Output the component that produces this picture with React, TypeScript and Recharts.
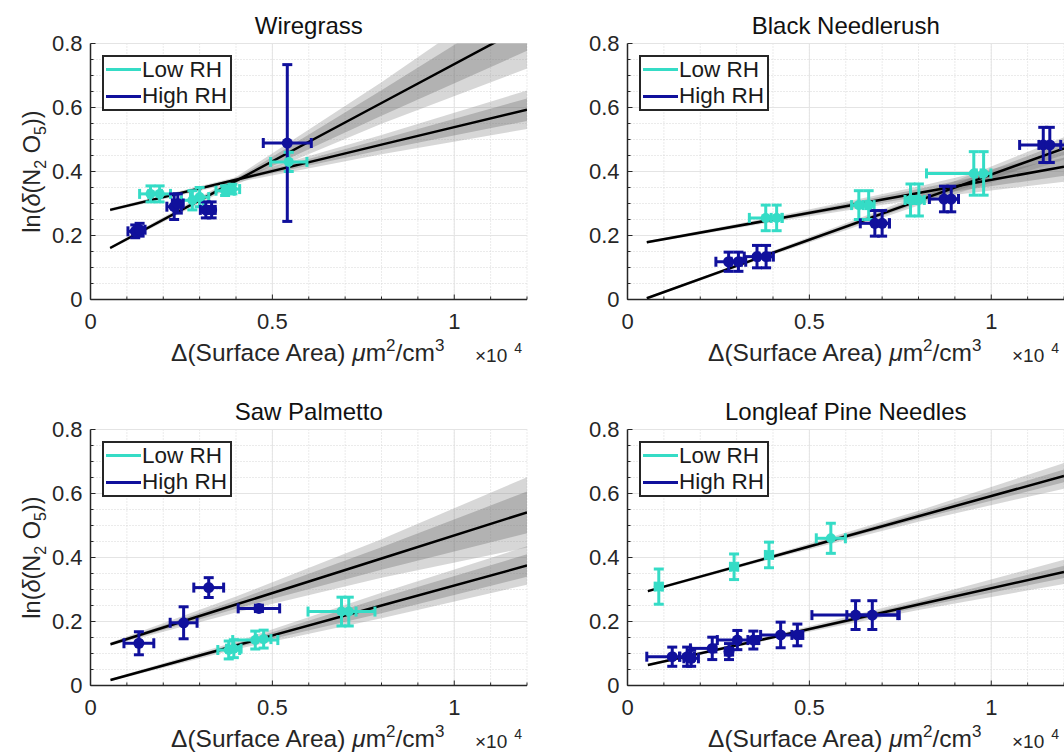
import React from "react";
import {
  ComposedChart, XAxis, YAxis, CartesianGrid, Area, Line, Scatter, ErrorBar,
} from "recharts";

// ── style ───────────────────────────────────────────────
const FONT = '"Liberation Sans", Arial, Helvetica, sans-serif';
const INK = "#262626";
const LOW = "#35dcc6";
const HIGH = "#10109c";

// ── axes ────────────────────────────────────────────────
const xTicks = [0, 0.1, 0.2, 0.3, 0.4, 0.5, 0.6, 0.7, 0.8, 0.9, 1, 1.1, 1.2];
const xMajor = [0, 0.5, 1];
const yTicks = [0, 0.05, 0.1, 0.15, 0.2, 0.25, 0.3, 0.35, 0.4, 0.45, 0.5, 0.55, 0.6, 0.65, 0.7, 0.75, 0.8];
const yMajor = [0, 0.2, 0.4, 0.6, 0.8];

// ── Wiregrass ───────────────────────────────────────────
const wiregrassLow = [
  { x: 0.165, y: 0.33, ex: 0.03, ey: 0.025 },
  { x: 0.19, y: 0.33, ex: 0.03, ey: 0.025 },
  { x: 0.28, y: 0.31, ex: 0.03, ey: 0.03 },
  { x: 0.3, y: 0.32, ex: 0.025, ey: 0.03 },
  { x: 0.37, y: 0.34, ex: 0.025, ey: 0.015 },
  { x: 0.39, y: 0.345, ex: 0.02, ey: 0.015 },
  { x: 0.545, y: 0.43, ex: 0.05, ey: 0.03 },
];
const wiregrassHigh = [
  { x: 0.123, y: 0.213, ex: 0.02, ey: 0.02 },
  { x: 0.135, y: 0.218, ex: 0.015, ey: 0.02 },
  { x: 0.23, y: 0.29, ex: 0.02, ey: 0.04 },
  { x: 0.24, y: 0.3, ex: 0.015, ey: 0.03 },
  { x: 0.317, y: 0.28, ex: 0.015, ey: 0.025 },
  { x: 0.333, y: 0.28, ex: 0.01, ey: 0.025 },
  { x: 0.541, y: 0.489, ex: 0.066, ey: 0.245 },
];
const wiregrassLowFit = [
  { x: 0.054, y: 0.28, outer: [0.275, 0.285], inner: [0.277, 0.283] },
  { x: 0.4, y: 0.374, outer: [0.366, 0.382], inner: [0.37, 0.378] },
  { x: 0.8, y: 0.484, outer: [0.454, 0.514], inner: [0.467, 0.501] },
  { x: 1.2, y: 0.593, outer: [0.533, 0.653], inner: [0.558, 0.628] },
];
const wiregrassHighFit = [
  { x: 0.054, y: 0.161, outer: [0.156, 0.166], inner: [0.158, 0.164] },
  { x: 0.4, y: 0.371, outer: [0.359, 0.383], inner: [0.365, 0.377] },
  { x: 0.8, y: 0.614, outer: [0.549, 0.679], inner: [0.574, 0.654] },
  { x: 1.2, y: 0.857, outer: [0.722, 0.992], inner: [0.777, 0.937] },
];

// ── Black Needlerush ────────────────────────────────────
const needleLow = [
  { x: 0.38, y: 0.255, ex: 0.045, ey: 0.04 },
  { x: 0.41, y: 0.255, ex: 0.015, ey: 0.04 },
  { x: 0.636, y: 0.295, ex: 0.02, ey: 0.045 },
  { x: 0.663, y: 0.295, ex: 0.015, ey: 0.045 },
  { x: 0.778, y: 0.311, ex: 0.015, ey: 0.05 },
  { x: 0.801, y: 0.311, ex: 0.015, ey: 0.05 },
  { x: 0.952, y: 0.394, ex: [0.13, 0.02], ey: 0.068 },
  { x: 0.979, y: 0.394, ex: 0.02, ey: 0.068 },
];
const needleHigh = [
  { x: 0.278, y: 0.118, ex: 0.035, ey: 0.03 },
  { x: 0.305, y: 0.118, ex: 0.02, ey: 0.03 },
  { x: 0.356, y: 0.134, ex: 0.035, ey: 0.035 },
  { x: 0.381, y: 0.134, ex: 0.02, ey: 0.035 },
  { x: 0.68, y: 0.238, ex: 0.04, ey: 0.04 },
  { x: 0.7, y: 0.238, ex: 0.02, ey: 0.04 },
  { x: 0.87, y: 0.314, ex: 0.04, ey: 0.04 },
  { x: 0.89, y: 0.314, ex: 0.02, ey: 0.04 },
  { x: 1.143, y: 0.483, ex: 0.065, ey: 0.055 },
  { x: 1.161, y: 0.483, ex: 0.03, ey: 0.055 },
];
const needleLowFit = [
  { x: 0.053, y: 0.179, outer: [0.175, 0.183], inner: [0.177, 0.181] },
  { x: 0.4, y: 0.25, outer: [0.242, 0.258], inner: [0.246, 0.254] },
  { x: 0.8, y: 0.333, outer: [0.313, 0.353], inner: [0.321, 0.345] },
  { x: 1.2, y: 0.415, outer: [0.368, 0.462], inner: [0.387, 0.443] },
];
const needleHighFit = [
  { x: 0.053, y: 0.004, outer: [0, 0.008], inner: [0.002, 0.006] },
  { x: 0.4, y: 0.146, outer: [0.14, 0.152], inner: [0.143, 0.149] },
  { x: 0.8, y: 0.309, outer: [0.294, 0.324], inner: [0.301, 0.317] },
  { x: 1.2, y: 0.472, outer: [0.437, 0.507], inner: [0.452, 0.492] },
];

// ── Saw Palmetto ────────────────────────────────────────
const palmLow = [
  { x: 0.38, y: 0.111, ex: 0.03, ey: 0.028 },
  { x: 0.394, y: 0.115, ex: 0.02, ey: 0.028 },
  { x: 0.453, y: 0.142, ex: 0.062, ey: 0.028 },
  { x: 0.476, y: 0.145, ex: 0.02, ey: 0.028 },
  { x: 0.69, y: 0.231, ex: 0.092, ey: 0.045 },
  { x: 0.71, y: 0.231, ex: 0.02, ey: 0.045 },
];
const palmHigh = [
  { x: 0.133, y: 0.132, ex: 0.041, ey: 0.036 },
  { x: 0.256, y: 0.196, ex: 0.037, ey: 0.05 },
  { x: 0.325, y: 0.306, ex: 0.041, ey: 0.031 },
  { x: 0.463, y: 0.241, ex: 0.057, ey: 0.01 },
];
const palmLowFit = [
  { x: 0.055, y: 0.017, outer: [0.013, 0.021], inner: [0.015, 0.019] },
  { x: 0.4, y: 0.125, outer: [0.113, 0.137], inner: [0.119, 0.131] },
  { x: 0.8, y: 0.25, outer: [0.21, 0.29], inner: [0.226, 0.274] },
  { x: 1.2, y: 0.375, outer: [0.315, 0.435], inner: [0.34, 0.41] },
];
const palmHighFit = [
  { x: 0.055, y: 0.129, outer: [0.124, 0.134], inner: [0.126, 0.132] },
  { x: 0.4, y: 0.253, outer: [0.228, 0.278], inner: [0.24, 0.266] },
  { x: 0.8, y: 0.397, outer: [0.337, 0.457], inner: [0.362, 0.432] },
  { x: 1.2, y: 0.541, outer: [0.431, 0.651], inner: [0.476, 0.606] },
];

// ── Longleaf Pine Needles ───────────────────────────────
const pineLow = [
  { x: 0.086, y: 0.309, ex: 0.01, ey: 0.055 },
  { x: 0.293, y: 0.371, ex: 0.01, ey: 0.04 },
  { x: 0.389, y: 0.408, ex: 0.01, ey: 0.04 },
  { x: 0.559, y: 0.46, ex: 0.04, ey: 0.047 },
];
const pineHigh = [
  { x: 0.123, y: 0.09, ex: [0.07, 0.02], ey: 0.03 },
  { x: 0.164, y: 0.09, ex: 0.02, ey: 0.03 },
  { x: 0.175, y: 0.085, ex: 0.02, ey: 0.025 },
  { x: 0.233, y: 0.116, ex: [0.06, 0.01], ey: 0.035 },
  { x: 0.279, y: 0.106, ex: 0.01, ey: 0.025 },
  { x: 0.302, y: 0.142, ex: 0.055, ey: 0.03 },
  { x: 0.346, y: 0.142, ex: 0.015, ey: 0.028 },
  { x: 0.421, y: 0.158, ex: 0.055, ey: 0.04 },
  { x: 0.467, y: 0.158, ex: 0.015, ey: 0.034 },
  { x: 0.627, y: 0.22, ex: 0.12, ey: 0.045 },
  { x: 0.673, y: 0.22, ex: 0.07, ey: 0.045 },
];
const pineLowFit = [
  { x: 0.056, y: 0.295, outer: [0.291, 0.299], inner: [0.293, 0.297] },
  { x: 0.4, y: 0.403, outer: [0.397, 0.409], inner: [0.4, 0.406] },
  { x: 0.8, y: 0.529, outer: [0.512, 0.546], inner: [0.52, 0.538] },
  { x: 1.2, y: 0.655, outer: [0.615, 0.695], inner: [0.635, 0.675] },
];
const pineHighFit = [
  { x: 0.056, y: 0.064, outer: [0.06, 0.068], inner: [0.062, 0.066] },
  { x: 0.4, y: 0.151, outer: [0.145, 0.157], inner: [0.148, 0.154] },
  { x: 0.8, y: 0.253, outer: [0.236, 0.27], inner: [0.244, 0.262] },
  { x: 1.2, y: 0.355, outer: [0.317, 0.393], inner: [0.336, 0.374] },
];

const legendItems = [
  { label: "Low RH", color: LOW },
  { label: "High RH", color: HIGH },
];

// plot box inside each 540x380 chart
const PLOT = { left: 90.5, top: 43.5, width: 436.5, height: 256 };

// ── ticks (MATLAB style, pointing inward) ───────────────
const BottomTick = ({ x, y, payload }: any) => {
  const major = xMajor.includes(payload.value);
  return (
    <g>
      <line x1={x} x2={x} y1={y} y2={y - (major ? 5 : 3)} stroke={INK} />
      {major && (
        <text x={x} y={y + 29.5} textAnchor="middle" fontFamily={FONT} fontSize={22} fill={INK}>
          {String(payload.value)}
        </text>
      )}
    </g>
  );
};
const TopTick = ({ x, y, payload }: any) => {
  const major = xMajor.includes(payload.value);
  return <line x1={x} x2={x} y1={y} y2={y + (major ? 5 : 3)} stroke={INK} />;
};
const LeftTick = ({ x, y, payload }: any) => {
  const major = yMajor.includes(payload.value);
  return (
    <g>
      <line x1={x} x2={x + (major ? 5 : 3)} y1={y} y2={y} stroke={INK} />
      {major && (
        <text x={x - 8} y={y} dy="0.36em" textAnchor="end" fontFamily={FONT} fontSize={22} fill={INK}>
          {String(payload.value)}
        </text>
      )}
    </g>
  );
};
const RightTick = ({ x, y, payload }: any) => {
  const major = yMajor.includes(payload.value);
  return <line x1={x} x2={x - (major ? 5 : 3)} y1={y} y2={y} stroke={INK} />;
};

// ── labels: x label, exponent and panel title ───────────
const XTitle = (props: any) => {
  const vb = props.viewBox ?? { x: PLOT.left, y: PLOT.top + PLOT.height, width: PLOT.width };
  const base = vb.y + 61.5;
  const cx = vb.x + vb.width / 2;
  return (
    <g>
      <text x={cx} y={vb.y - PLOT.height - 9.5} textAnchor="middle" fontFamily={FONT} fontSize={24} fill="#111">
        {props.title}
      </text>
      <text x={cx - 1} y={base} textAnchor="middle" fontFamily={FONT} fontSize={24.5} fill={INK}>
        {"Δ(Surface Area) "}<tspan fontStyle="italic">μ</tspan>m<tspan dy={-10} fontSize={17}>2</tspan><tspan dy={10}>/cm</tspan><tspan dy={-10} fontSize={17}>3</tspan>
      </text>
      <text x={vb.x + vb.width - 52} y={base + 0.5} fontFamily={FONT} fontSize={19} fill={INK}>
        ×10<tspan dx={7} dy={-8.5} fontSize={14}>4</tspan>
      </text>
    </g>
  );
};
const YTitle = () => {
  const x = 40;
  const y = PLOT.top + PLOT.height / 2;
  return (
    <text x={x} y={y} transform={`rotate(-90 ${x} ${y})`} textAnchor="middle" fontFamily={FONT} fontSize={23.5} fill={INK}>
      ln(<tspan fontStyle="italic">δ</tspan>(N<tspan dy={6} fontSize={16}>2</tspan><tspan dy={-6}>{" O"}</tspan><tspan dy={6} fontSize={16}>5</tspan><tspan dy={-6}>))</tspan>
    </text>
  );
};

const LegendBox = ({ left, top }: { left: number; top: number }) => (
  <div style={{
    position: "absolute", left, top, width: 130, height: 56, boxSizing: "border-box",
    border: "2px solid #262626", background: "#fff", fontFamily: FONT, fontSize: 22.5, color: "#1a1a1a",
  }}>
    {legendItems.map((it, i) => (
      <div key={it.label} style={{ position: "absolute", left: 0, top: i * 26.5, width: "100%", height: 26.5 }}>
        <span style={{ position: "absolute", left: 2.5, top: 11.5, width: 35, height: 3, background: it.color }} />
        <span style={{ position: "absolute", left: 38.5, top: 0, lineHeight: "26.5px", whiteSpace: "nowrap" }}>{it.label}</span>
      </div>
    ))}
  </div>
);

const bandOuter = { fill: "#8c8c8c", fillOpacity: 0.35 };
const bandInner = { fill: "#6e6e6e", fillOpacity: 0.35 };

function Panel({ title, low, high, lowFit, highFit, yLabel }: any) {
  const axisLine = { stroke: INK, strokeWidth: 1.5 };
  return (
    <ComposedChart width={540} height={380} margin={{ top: 43.5, right: 13, bottom: 10.5, left: 0 }}>
      <CartesianGrid verticalValues={xTicks} horizontalValues={yTicks} stroke="#d6d6d6" strokeDasharray="1 2" />
      <CartesianGrid verticalValues={xMajor} horizontalValues={yMajor} stroke="#e4e4e4" />
      <XAxis type="number" dataKey="x" domain={[0, 1.2]} ticks={xTicks} interval={0} allowDataOverflow
        height={70} tickSize={0} tickMargin={0} tickLine={false} axisLine={axisLine}
        tick={<BottomTick />} label={<XTitle title={title} />} />
      <XAxis xAxisId="top" orientation="top" type="number" dataKey="x" domain={[0, 1.2]} ticks={xTicks} interval={0}
        allowDataOverflow height={0} tickSize={0} tickMargin={0} tickLine={false} axisLine={axisLine}
        tick={<TopTick />} />
      <YAxis type="number" domain={[0, 0.8]} ticks={yTicks} interval={0} allowDataOverflow
        width={90.5} tickSize={0} tickMargin={0} tickLine={false} axisLine={axisLine}
        tick={<LeftTick />} label={yLabel ? <YTitle /> : undefined} />
      <YAxis yAxisId="right" orientation="right" type="number" domain={[0, 0.8]} ticks={yTicks} interval={0}
        allowDataOverflow width={0} tickSize={0} tickMargin={0} tickLine={false} axisLine={axisLine}
        tick={<RightTick />} />

      <Area data={lowFit} dataKey="outer" type="linear" stroke="none" {...bandOuter} isAnimationActive={false} />
      <Area data={highFit} dataKey="outer" type="linear" stroke="none" {...bandOuter} isAnimationActive={false} />
      <Area data={lowFit} dataKey="inner" type="linear" stroke="none" {...bandInner} isAnimationActive={false} />
      <Area data={highFit} dataKey="inner" type="linear" stroke="none" {...bandInner} isAnimationActive={false} />
      <Line data={lowFit} dataKey="y" type="linear" stroke="#000" strokeWidth={2.5} dot={false} isAnimationActive={false} />
      <Line data={highFit} dataKey="y" type="linear" stroke="#000" strokeWidth={2.5} dot={false} isAnimationActive={false} />

      <Scatter data={low} dataKey="y" isAnimationActive={false}
        shape={(p: any) => <circle cx={p.cx} cy={p.cy} r={5} fill={LOW} />}>
        <ErrorBar dataKey="ey" direction="y" width={5} stroke={LOW} strokeWidth={3} />
        <ErrorBar dataKey="ex" direction="x" width={5} stroke={LOW} strokeWidth={3} />
      </Scatter>
      <Scatter data={high} dataKey="y" isAnimationActive={false}
        shape={(p: any) => <circle cx={p.cx} cy={p.cy} r={5.5} fill={HIGH} />}>
        <ErrorBar dataKey="ey" direction="y" width={5} stroke={HIGH} strokeWidth={3} />
        <ErrorBar dataKey="ex" direction="x" width={5} stroke={HIGH} strokeWidth={3} />
      </Scatter>
    </ComposedChart>
  );
}

const panels = [
  { title: "Wiregrass", low: wiregrassLow, high: wiregrassHigh, lowFit: wiregrassLowFit, highFit: wiregrassHighFit, left: 0, top: 0, yLabel: true },
  { title: "Black Needlerush", low: needleLow, high: needleHigh, lowFit: needleLowFit, highFit: needleHighFit, left: 537, top: 0, yLabel: false },
  { title: "Saw Palmetto", low: palmLow, high: palmHigh, lowFit: palmLowFit, highFit: palmHighFit, left: 0, top: 386, yLabel: true },
  { title: "Longleaf Pine Needles", low: pineLow, high: pineHigh, lowFit: pineLowFit, highFit: pineHighFit, left: 537, top: 386, yLabel: false },
];

export default function App() {
  return (
    <div style={{ position: "absolute", left: 0, top: 0, width: 1064, height: 755, overflow: "hidden", background: "#fff" }}>
      {panels.map((p) => (
        <div key={p.title} style={{ position: "absolute", left: p.left, top: p.top, width: 540, height: 380 }}>
          <Panel {...p} />
          <LegendBox left={PLOT.left + 11} top={PLOT.top + 11} />
        </div>
      ))}
    </div>
  );
}
